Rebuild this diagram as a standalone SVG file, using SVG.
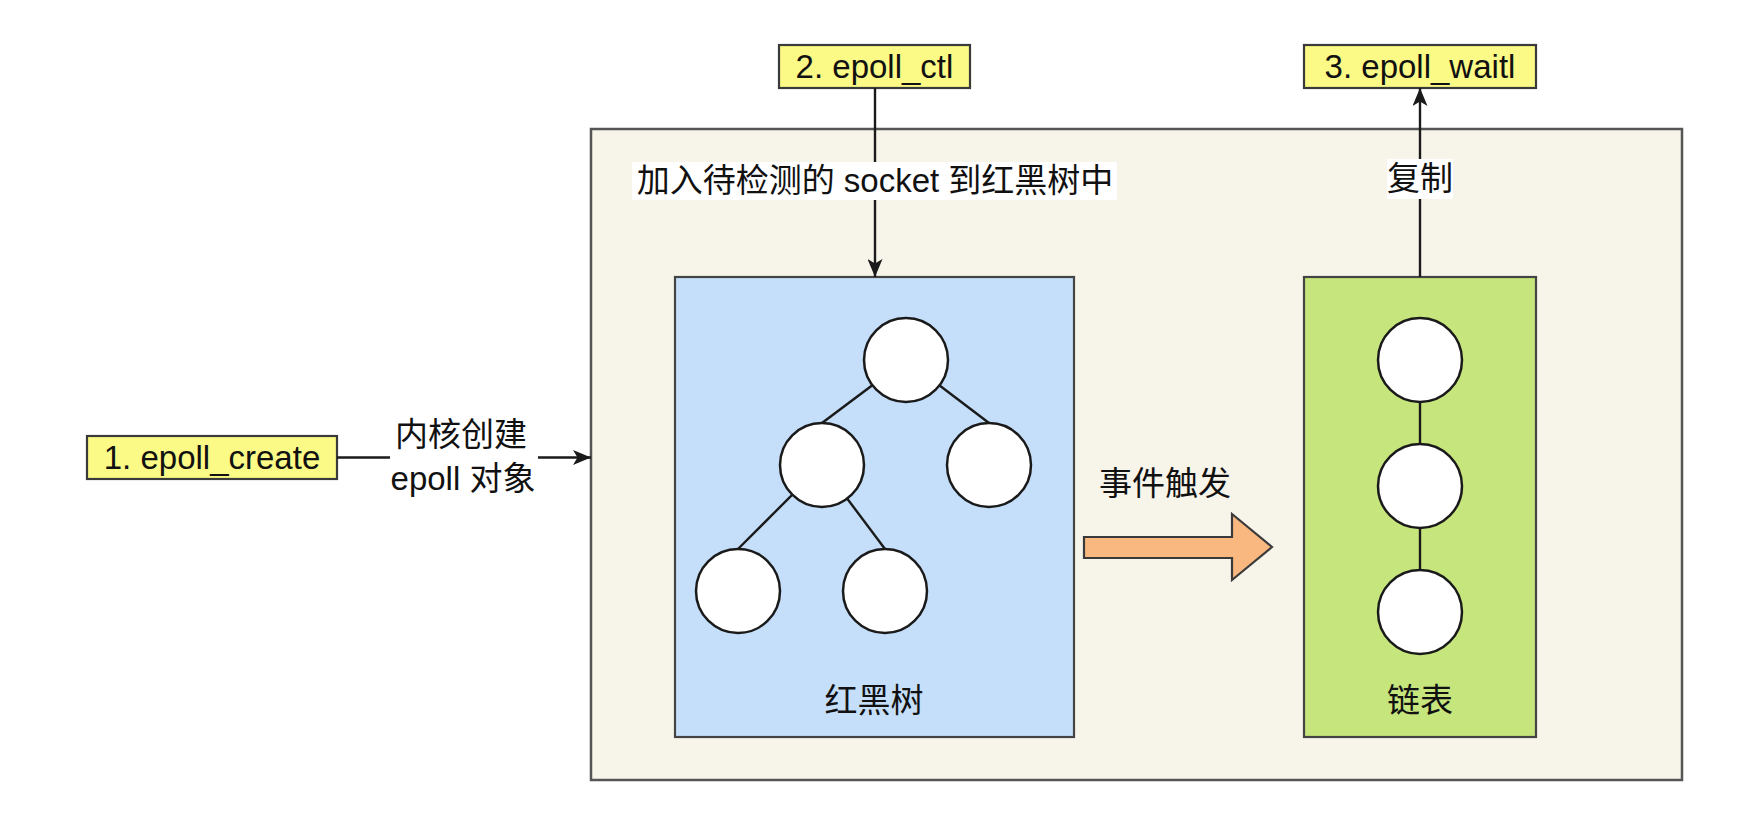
<svg xmlns="http://www.w3.org/2000/svg" width="1748" height="824" viewBox="0 0 1748 824">
<style>
  .t { font-family: "Liberation Sans", "Noto Sans CJK SC", sans-serif; font-size: 33px; fill: #111; text-anchor: middle; }
  .note { fill: #fbfa86; stroke: #3a3a3a; stroke-width: 2.2; }
  .ln { stroke: #1a1a1a; stroke-width: 2.4; fill: none; }
  .node { fill: #ffffff; stroke: #1a1a1a; stroke-width: 2.5; }
  .lbg { fill: #ffffff; }
</style>
<defs>
  <marker id="arr" markerUnits="userSpaceOnUse" viewBox="0 0 18 15" refX="18" refY="7.5" markerWidth="18" markerHeight="15" orient="auto">
    <path d="M0,0 L18,7.5 L0,15 L4.5,7.5 Z" fill="#1a1a1a"/>
  </marker>
</defs>
<rect width="1748" height="824" fill="#ffffff"/>

<g id="container">
  <rect x="591" y="129" width="1091" height="651" fill="#f7f4ea" stroke="#555555" stroke-width="2.5"/>
</g>

<g id="rbtree">
  <rect x="675" y="277" width="399" height="460" fill="#c5dffa" stroke="#444444" stroke-width="2.2"/>
  <line class="ln" x1="906" y1="360" x2="822" y2="423"/>
  <line class="ln" x1="906" y1="360" x2="989" y2="423"/>
  <line class="ln" x1="822" y1="465" x2="738" y2="549"/>
  <line class="ln" x1="822" y1="465" x2="885" y2="549"/>
  <circle class="node" cx="906" cy="360" r="42"/>
  <circle class="node" cx="822" cy="465" r="42"/>
  <circle class="node" cx="989" cy="465" r="42"/>
  <circle class="node" cx="738" cy="591" r="42"/>
  <circle class="node" cx="885" cy="591" r="42"/>
  <text class="t" x="874" y="712">红黑树</text>
</g>

<g id="linkedlist">
  <rect x="1304" y="277" width="232" height="460" fill="#c6e67d" stroke="#444444" stroke-width="2.2"/>
  <line class="ln" x1="1420" y1="402" x2="1420" y2="444"/>
  <line class="ln" x1="1420" y1="528" x2="1420" y2="570"/>
  <circle class="node" cx="1420" cy="360" r="42"/>
  <circle class="node" cx="1420" cy="486" r="42"/>
  <circle class="node" cx="1420" cy="612" r="42"/>
  <text class="t" x="1420" y="712">链表</text>
</g>

<g id="epoll_create">
  <rect class="note" x="87" y="436" width="250" height="43"/>
  <text class="t" x="212" y="469">1. epoll_create</text>
</g>

<g id="epoll_ctl">
  <rect class="note" x="779" y="45" width="191" height="43"/>
  <text class="t" x="874.5" y="77.5">2. epoll_ctl</text>
</g>

<g id="epoll_wait">
  <rect class="note" x="1304" y="45" width="232" height="43"/>
  <text class="t" x="1420" y="77.5">3. epoll_waitl</text>
</g>

<g id="event_arrow">
  <path d="M1084,537 L1232,537 L1232,514 L1272,547 L1232,580 L1232,558 L1084,558 Z" fill="#f9b880" stroke="#3a3a3a" stroke-width="2.2" stroke-linejoin="miter"/>
  <text class="t" x="1165" y="495">事件触发</text>
</g>

<g id="connectors">
  <line class="ln" x1="337" y1="457.5" x2="591" y2="457.5" marker-end="url(#arr)"/>
  <rect class="lbg" x="390" y="414" width="148" height="86"/>
  <text class="t" x="461" y="446">内核创建</text>
  <text class="t" x="463" y="490">epoll 对象</text>

  <line class="ln" x1="875" y1="88" x2="875" y2="277" marker-end="url(#arr)"/>
  <rect class="lbg" x="632" y="162" width="485" height="38"/>
  <text class="t" x="875" y="192">加入待检测的 socket 到红黑树中</text>

  <line class="ln" x1="1420" y1="277" x2="1420" y2="88" marker-end="url(#arr)"/>
  <rect class="lbg" x="1387" y="159" width="66" height="40"/>
  <text class="t" x="1420" y="190">复制</text>
</g>
</svg>
